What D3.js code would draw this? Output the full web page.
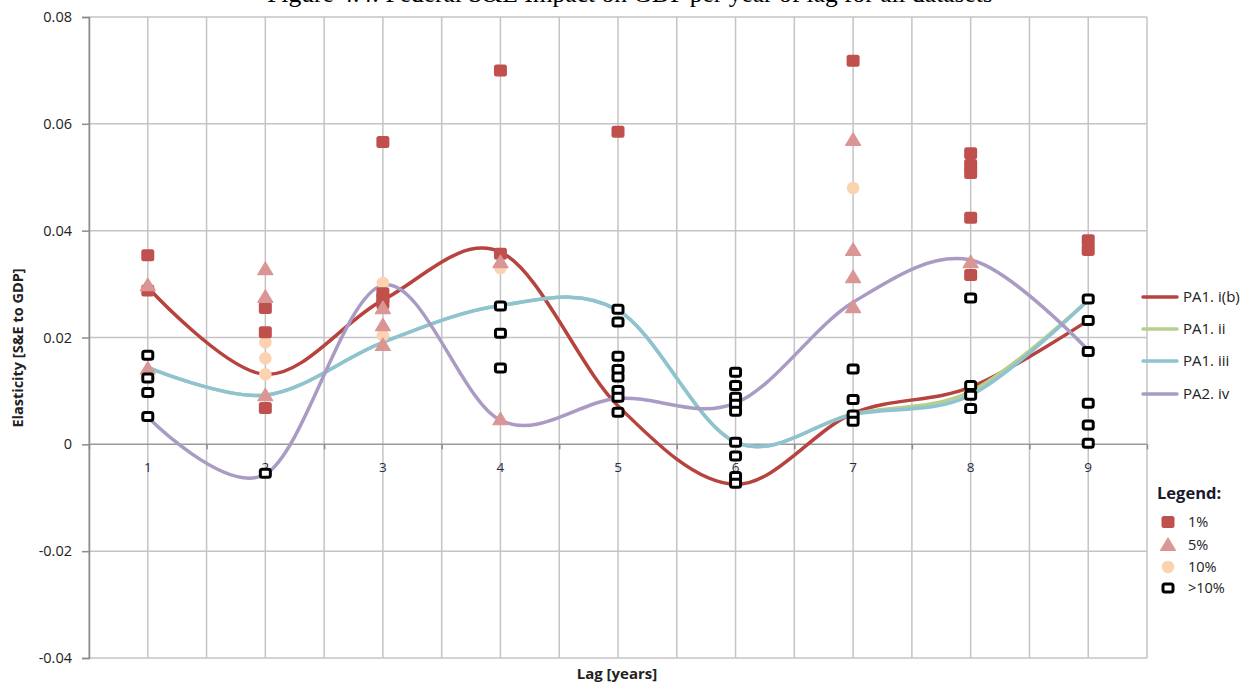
<!DOCTYPE html>
<html>
<head>
<meta charset="utf-8">
<script src="https://cdn.jsdelivr.net/npm/d3@7/dist/d3.min.js"></script>
<style>
  html, body { margin: 0; padding: 0; background: #fff; }
  svg { display: block; }
</style>
</head>
<body>
<svg id="chart" width="1253" height="686"></svg>
<script>
// ---- data -----------------------------------------------------------
const lags = [1, 2, 3, 4, 5, 6, 7, 8, 9];
const yTicks = [-0.04, -0.02, 0, 0.02, 0.04, 0.06, 0.08];
const yTickLabels = ["-0.04", "-0.02", "0", "0.02", "0.04", "0.06", "0.08"];

// fitted (smoothed) elasticity per lag for each specification
const seriesNames = ["PA1. i(b)", "PA1. ii", "PA1. iii", "PA2. iv"];
const pa1ib  = [0.0294, 0.0131, 0.0270, 0.0360, 0.0072, -0.0075, 0.0058, 0.0107, 0.0232];
const pa1ii  = [0.0144, 0.0092, 0.0191, 0.0260, 0.0251, 0.0004, 0.0057, 0.0099, 0.0270];
const pa1iii = [0.0144, 0.0092, 0.0191, 0.0260, 0.0251, 0.0004, 0.0056, 0.0092, 0.0270];
const pa2iv  = [0.0051, -0.0056, 0.0298, 0.0045, 0.0086, 0.0077, 0.0266, 0.0345, 0.0176];

// individual estimates by significance level: [lag, elasticity]
const sig1 = [
  [1, 0.0354], [1, 0.0288],
  [2, 0.0255], [2, 0.0210], [2, 0.0068],
  [3, 0.0566], [3, 0.0283], [3, 0.0274], [3, 0.0264],
  [4, 0.0700], [4, 0.0357],
  [5, 0.0585],
  [7, 0.0718],
  [8, 0.0545], [8, 0.0523], [8, 0.0508], [8, 0.0424], [8, 0.0317],
  [9, 0.0382], [9, 0.0364]
];
const sig5 = [
  [1, 0.0298], [1, 0.0142],
  [2, 0.0328], [2, 0.0276], [2, 0.0092],
  [3, 0.0255], [3, 0.0223], [3, 0.0186],
  [4, 0.0341], [4, 0.0047],
  [7, 0.0570], [7, 0.0364], [7, 0.0313], [7, 0.0257],
  [8, 0.0341]
];
const sig10 = [
  [2, 0.0191], [2, 0.0161], [2, 0.0131],
  [3, 0.0302], [3, 0.0204],
  [4, 0.0330],
  [7, 0.0480]
];
const sigNone = [
  [1, 0.0167], [1, 0.0124], [1, 0.0097], [1, 0.0052],
  [2, -0.0054],
  [4, 0.0259], [4, 0.0208], [4, 0.0143],
  [5, 0.0253], [5, 0.0229], [5, 0.0165], [5, 0.0140], [5, 0.0126], [5, 0.0101], [5, 0.0088], [5, 0.0060],
  [6, 0.0135], [6, 0.0110], [6, 0.0088], [6, 0.0075], [6, 0.0062], [6, 0.0004], [6, -0.0022], [6, -0.0060], [6, -0.0073],
  [7, 0.0141], [7, 0.0084], [7, 0.0055], [7, 0.0043],
  [8, 0.0274], [8, 0.0110], [8, 0.0092], [8, 0.0067],
  [9, 0.0272], [9, 0.0232], [9, 0.0174], [9, 0.0077], [9, 0.0036], [9, 0.0002]
];
const sigLabels = ["1%", "5%", "10%", ">10%"];

// ---- styling --------------------------------------------------------
const lineColors = ["#B7433F", "#B6CF8C", "#8DC3D2", "#A99BC3"];
const cRed = "#C0504D", cPink = "#DA9694", cPeach = "#FBD3B0";
const gridColor = "#C4C4C4", axisColor = "#8C8C8C";
const font = "'Open Sans', 'Liberation Sans', sans-serif";

const svg = d3.select("#chart");
const x = d3.scaleLinear().domain([0.5, 9.5]).range([89, 1147]);
const y = d3.scaleLinear().domain([-0.04, 0.08]).range([658, 17]);

// title (runs off the top edge)
svg.append("text")
  .attr("x", 630).attr("y", 2)
  .attr("text-anchor", "middle")
  .attr("font-family", "'Liberation Serif', serif")
  .attr("font-size", 25.5)
  .attr("fill", "#000")
  .text("Figure 4.4: Federal S&E Impact on GDP per year of lag for all datasets");

// gridlines
const grid = svg.append("g");
const xGrid = d3.range(0.5, 9.51, 0.5);
grid.selectAll("line.v").data(xGrid).join("line")
  .attr("x1", d => x(d)).attr("x2", d => x(d))
  .attr("y1", y(0.08)).attr("y2", y(-0.04))
  .attr("stroke", gridColor).attr("stroke-width", 1.5);
grid.selectAll("line.h").data(yTicks).join("line")
  .attr("x1", x(0.5)).attr("x2", x(9.5))
  .attr("y1", d => y(d)).attr("y2", d => y(d))
  .attr("stroke", d => d === 0 ? "#9A9A9A" : gridColor).attr("stroke-width", 1.5);

// y axis
const yAxis = d3.axisLeft(y).tickValues(yTicks).tickSize(7).tickPadding(10)
  .tickFormat((d, i) => yTickLabels[i]);
const gy = svg.append("g").attr("transform", `translate(${x(0.5)},0)`).call(yAxis);
gy.select(".domain").attr("stroke", axisColor).attr("stroke-width", 1.5);
gy.selectAll(".tick line").attr("stroke", axisColor).attr("stroke-width", 1.5);
gy.selectAll(".tick text").attr("font-family", font).attr("font-size", 14.5).attr("fill", "#222");

// x axis crossing at zero: ticks between lags, labels on lags
const xAxis = d3.axisBottom(x).tickValues(xGrid.filter(d => d % 1 !== 0)).tickSize(5).tickFormat("");
const gx = svg.append("g").attr("transform", `translate(0,${y(0)})`).call(xAxis);
gx.select(".domain").remove();
gx.selectAll(".tick line").attr("stroke", axisColor).attr("stroke-width", 1.5);
svg.append("g").selectAll("text").data(lags).join("text")
  .attr("x", d => x(d)).attr("y", y(0) + 28)
  .attr("text-anchor", "middle")
  .attr("font-family", font).attr("font-size", 13.5).attr("fill", "#1F2D4A")
  .text(d => d);

// axis titles
svg.append("text")
  .attr("transform", `translate(23,348) rotate(-90)`)
  .attr("text-anchor", "middle")
  .attr("font-family", font).attr("font-size", 14.5).attr("font-weight", "bold").attr("fill", "#222")
  .text("Elasticity [S&E to GDP]");
svg.append("text")
  .attr("x", 617).attr("y", 679)
  .attr("text-anchor", "middle")
  .attr("font-family", font).attr("font-size", 15).attr("font-weight", "bold").attr("fill", "#222")
  .text("Lag [years]");

// smoothed lines
const line = d3.line()
  .x((d, i) => x(lags[i]))
  .y(d => y(d))
  .curve(d3.curveCatmullRom.alpha(0));
[pa1ib, pa1ii, pa1iii, pa2iv].forEach((vals, i) => {
  svg.append("path")
    .attr("d", line(vals))
    .attr("fill", "none")
    .attr("stroke", lineColors[i])
    .attr("stroke-width", 3.5)
    .attr("stroke-linecap", "round");
});

// marker helpers
function square(g, cx, cy) {
  g.append("rect").attr("x", cx - 6.5).attr("y", cy - 6).attr("width", 13).attr("height", 12)
    .attr("rx", 2.5).attr("fill", cRed);
}
function triangle(g, cx, cy) {
  g.append("path")
    .attr("d", `M${cx},${cy - 7} L${cx + 7.5},${cy + 5.5} L${cx - 7.5},${cy + 5.5} Z`)
    .attr("fill", cPink).attr("stroke", cPink).attr("stroke-width", 1.2).attr("stroke-linejoin", "round");
}
function dot(g, cx, cy) {
  g.append("circle").attr("cx", cx).attr("cy", cy).attr("r", 6.3).attr("fill", cPeach);
}
function hollow(g, cx, cy) {
  g.append("rect").attr("x", cx - 5).attr("y", cy - 4).attr("width", 10).attr("height", 8)
    .attr("rx", 2).attr("fill", "#fff").attr("stroke", "#000").attr("stroke-width", 3);
}

const pts = svg.append("g");
sig10.forEach(d => dot(pts, x(d[0]), y(d[1])));
sig1.forEach(d => square(pts, x(d[0]), y(d[1])));
sig5.forEach(d => triangle(pts, x(d[0]), y(d[1])));
sigNone.forEach(d => hollow(pts, x(d[0]), y(d[1])));

// series legend
const leg1 = svg.append("g");
const legY = [297, 329, 361, 394];
seriesNames.forEach((name, i) => {
  leg1.append("line")
    .attr("x1", 1143).attr("x2", 1177).attr("y1", legY[i]).attr("y2", legY[i])
    .attr("stroke", lineColors[i]).attr("stroke-width", 3.5).attr("stroke-linecap", "round");
  leg1.append("text")
    .attr("x", 1183).attr("y", legY[i] + 5)
    .attr("font-family", font).attr("font-size", 15).attr("fill", "#222")
    .text(name);
});

// significance legend
const leg2 = svg.append("g");
leg2.append("text")
  .attr("x", 1157).attr("y", 499)
  .attr("font-family", font).attr("font-size", 16.5).attr("font-weight", "bold").attr("fill", "#1A1A2E")
  .text("Legend:");
const leg2Y = [522, 545, 567, 588];
const drawers = [square, triangle, dot, hollow];
sigLabels.forEach((lab, i) => {
  drawers[i](leg2, 1168, leg2Y[i]);
  leg2.append("text")
    .attr("x", 1188).attr("y", leg2Y[i] + 5)
    .attr("font-family", font).attr("font-size", 14.5).attr("fill", "#222")
    .text(lab);
});
</script>
</body>
</html>
